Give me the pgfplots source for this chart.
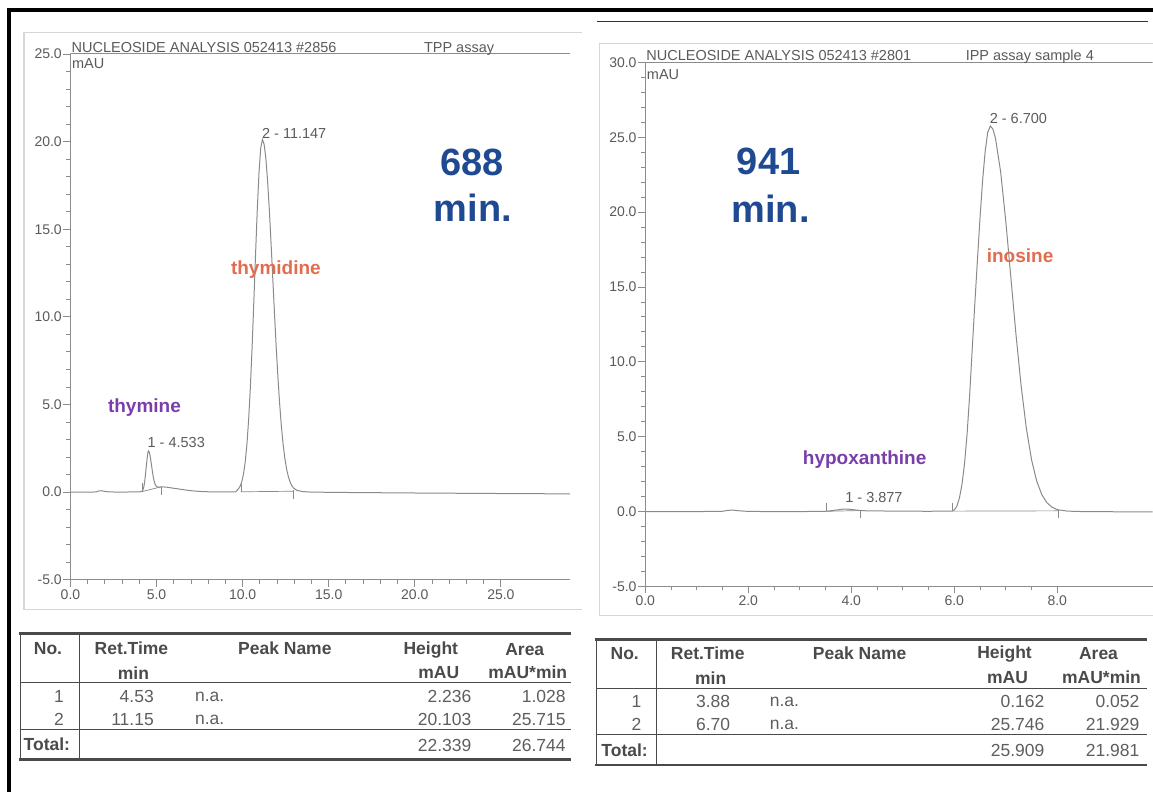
\documentclass[border=0pt]{standalone}
\usepackage{pgfplots}
\pgfplotsset{compat=1.18}
\usepackage{fontspec}
\setmainfont{Liberation Sans}
\definecolor{curve}{HTML}{8A8A8A}
\definecolor{axc}{HTML}{8C8C8C}
\definecolor{tlab}{HTML}{5A5A5A}
\definecolor{frm}{HTML}{D6D6D6}
\definecolor{tab}{HTML}{4A4A4A}
\definecolor{tabtxt}{HTML}{5E5E5E}
\definecolor{blu}{HTML}{1F4991}
\definecolor{org}{HTML}{E26C4E}
\definecolor{pur}{HTML}{7A3EAA}
\newcommand\fs[1]{\fontsize{#1}{#1}\selectfont}
\pgfplotsset{chrom/.style={scale only axis, axis lines=left,
  axis line style={-,draw=axc,line width=1pt},
  tick align=outside, major tick length=7pt, minor tick length=4pt,
  every tick/.append style={draw=axc,line width=0.9pt},
  ticklabel style={font=\fs{14},text=tlab},
  yticklabel style={inner xsep=1.5pt},
  xticklabel style={inner ysep=2.5pt},
  /pgf/number format/fixed, /pgf/number format/fixed zerofill,
  /pgf/number format/precision=1, /pgf/number format/assume math mode=true}}
\begin{document}
\begin{tikzpicture}
\begin{scope}[x=1pt,y=-1pt]
\useasboundingbox (0,0) rectangle (1153,792);
% outer borders
\draw[black,line width=3.2pt] (7.5,10) -- (1153,10);
\draw[black,line width=3.2pt] (9,8.5) -- (9,792);
\draw[black!80,line width=1.6pt] (597,21.7) -- (1148,21.7);
% printout frames
\draw[frm,line width=1.2pt] (582,32.5) -- (24,32.5) -- (24,610) -- (582,610);
\draw[frm,line width=1.2pt] (1153,43.5) -- (600,43.5) -- (600,616) -- (1153,616);
% ---- left table
\draw[tab,line width=2.6pt] (19.5,633.5) -- (571,633.5);
\draw[tab,line width=2.6pt] (19.5,760) -- (571,760);
\draw[tab,line width=1.2pt] (20.7,682.5) -- (571,682.5);
\draw[tab,line width=1.2pt] (20.7,730) -- (571,730);
\draw[tab,line width=1.2pt] (20.7,633.5) -- (20.7,760);
\draw[tab,line width=1.2pt] (79.3,633.5) -- (79.3,760);
\begin{scope}[every node/.style={inner sep=0pt,font=\fs{17.5}\bfseries,text=tab}]
\node at (48,649) {No.};
\node at (131.5,649) {Ret.Time};
\node at (133.5,673) {min};
\node at (285,649) {Peak Name};
\node at (431,650) {Height};
\node at (439,673) {mAU};
\node at (525,650) {Area};
\node at (528,673) {mAU*min};
\node[anchor=west] at (23.5,745) {Total:};
\end{scope}
\begin{scope}[every node/.style={inner sep=0pt,font=\fs{17.5},text=tabtxt}]
\node[anchor=east] at (64,697) {1};
\node[anchor=east] at (64,720) {2};
\node[anchor=east] at (154,697) {4.53};
\node[anchor=east] at (154,720) {11.15};
\node[anchor=west] at (195,697) {n.a.};
\node[anchor=west] at (195,720) {n.a.};
\node[anchor=east] at (471.7,697) {2.236};
\node[anchor=east] at (471.7,720) {20.103};
\node[anchor=east] at (471.7,746) {22.339};
\node[anchor=east] at (566,697) {1.028};
\node[anchor=east] at (566,720) {25.715};
\node[anchor=east] at (566,746) {26.744};
\end{scope}
% ---- right table
\draw[tab,line width=2.6pt] (595.5,640) -- (1147,640);
\draw[tab,line width=2.6pt] (595.5,765.5) -- (1147,765.5);
\draw[tab,line width=1.2pt] (596.7,688.5) -- (1147,688.5);
\draw[tab,line width=1.2pt] (596.7,735) -- (1147,735);
\draw[tab,line width=1.2pt] (596.7,640) -- (596.7,765.5);
\draw[tab,line width=1.2pt] (656.7,640) -- (656.7,765.5);
\begin{scope}[every node/.style={inner sep=0pt,font=\fs{17.5}\bfseries,text=tab}]
\node at (625,654) {No.};
\node at (708,654) {Ret.Time};
\node at (711,678) {min};
\node at (860,654) {Peak Name};
\node at (1005,654) {Height};
\node at (1008,678) {mAU};
\node at (1099,654) {Area};
\node at (1102,678) {mAU*min};
\node[anchor=west] at (601.5,750.5) {Total:};
\end{scope}
\begin{scope}[every node/.style={inner sep=0pt,font=\fs{17.5},text=tabtxt}]
\node[anchor=east] at (641.7,702) {1};
\node[anchor=east] at (641.7,725) {2};
\node[anchor=east] at (730.7,702) {3.88};
\node[anchor=east] at (730.7,725) {6.70};
\node[anchor=west] at (770,702) {n.a.};
\node[anchor=west] at (770,725) {n.a.};
\node[anchor=east] at (1045,702) {0.162};
\node[anchor=east] at (1045,725) {25.746};
\node[anchor=east] at (1045,750.5) {25.909};
\node[anchor=east] at (1140,702) {0.052};
\node[anchor=east] at (1140,725) {21.929};
\node[anchor=east] at (1140,750.5) {21.981};
\end{scope}
\end{scope}
% ---- left chromatogram
\begin{axis}[chrom, at={(70.5pt,-580pt)}, anchor=south west,
  width=499.5pt, height=526pt, xmin=0, xmax=29, ymin=-5, ymax=25,
  xtick={0,5,...,25}, ytick={-5,0,...,25}, minor x tick num=4, minor y tick num=4]
\addplot[curve, line width=1pt] coordinates {
(0,0) (0.5,0) (1.0,0) (1.5,0.01) (1.65,0.07) (1.8,0.08) (2.0,0.04) (2.3,0.01)
(3.0,0) (3.5,0.01) (4.0,0.02) (4.15,0.03) (4.2,0.11) (4.25,0.25) (4.3,0.52)
(4.35,0.93) (4.4,1.43) (4.45,1.90) (4.5,2.28) (4.53,2.35) (4.56,2.33) (4.6,2.20)
(4.65,1.92) (4.7,1.58) (4.75,1.24) (4.8,0.91) (4.85,0.66) (4.9,0.49) (4.95,0.38)
(5.0,0.32) (5.1,0.28) (5.2,0.29) (5.35,0.30) (5.6,0.28) (6.0,0.22) (6.5,0.15)
(7.0,0.08) (7.5,0.04) (8.0,0.02) (9.0,0.01) (9.6,0.02) (9.75,0.18) (9.85,0.33)
(9.95,0.59) (10.05,1.03) (10.15,1.72) (10.25,2.74) (10.35,4.16) (10.45,6.01)
(10.55,8.28) (10.65,10.86) (10.75,13.56) (10.85,16.11) (10.95,18.23) (11.05,19.63)
(11.15,20.12) (11.25,19.84) (11.35,19.03) (11.45,17.76) (11.55,16.11) (11.65,14.22)
(11.75,12.21) (11.85,10.20) (11.95,8.28) (12.05,6.55) (12.15,5.03) (12.25,3.76)
(12.35,2.74) (12.45,1.94) (12.55,1.34) (12.65,0.90) (12.75,0.59) (12.85,0.38)
(12.95,0.24) (13.15,0.10) (13.5,0.03) (14.0,0) (16.0,-0.02) (20.0,-0.05)
(25.0,-0.08) (29.0,-0.10)};
\addplot[curve, line width=0.7pt] coordinates {(4.15,0.03) (5.25,0.30)};
\addplot[curve, line width=0.7pt] coordinates {(9.9,0.02) (12.95,0.05)};
\addplot[curve, line width=0.7pt] coordinates {(4.15,0.03) (4.15,0.5)};
\addplot[curve, line width=0.7pt] coordinates {(5.25,0.30) (5.25,-0.15)};
\addplot[curve, line width=0.7pt] coordinates {(9.9,0.02) (9.9,0.45)};
\addplot[curve, line width=0.7pt] coordinates {(12.95,0.10) (12.95,-0.40)};
\draw[axc,line width=1pt] (rel axis cs:0,1) -- (rel axis cs:1,1);
\end{axis}
% ---- right chromatogram
\begin{axis}[chrom, at={(645.5pt,-586.7pt)}, anchor=south west,
  width=507.5pt, height=524.3pt, xmin=0, xmax=9.85, ymin=-5, ymax=30,
  xtick={0,2,...,8}, ytick={-5,0,...,30}, minor x tick num=3, minor y tick num=4]
\addplot[curve, line width=1pt] coordinates {
(0,0) (0.5,0) (1.0,0) (1.5,0.02) (1.6,0.08) (1.7,0.10) (1.8,0.06) (2.0,0.01)
(2.5,0) (3.0,0) (3.5,0.02) (3.6,0.05) (3.7,0.10) (3.8,0.15) (3.88,0.17) (3.95,0.16)
(4.05,0.12) (4.15,0.08) (4.3,0.05) (4.6,0.04) (5.0,0.03) (5.5,0.02) (5.8,0.03)
(5.95,0.03) (6.0,0.10) (6.05,0.35) (6.1,0.9) (6.15,1.8) (6.2,3.2) (6.25,5.2)
(6.3,7.8) (6.35,10.9) (6.4,13.89) (6.45,16.77) (6.5,19.57) (6.55,22.07) (6.6,24.04)
(6.65,25.31) (6.7,25.75) (6.75,25.55) (6.8,24.95) (6.9,22.72) (7.0,19.43)
(7.1,15.62) (7.2,11.79) (7.3,8.36) (7.4,5.57) (7.5,3.48) (7.6,2.05) (7.7,1.13)
(7.8,0.59) (7.9,0.29) (8.0,0.13) (8.2,0.03) (8.5,0) (9.0,-0.01) (9.85,-0.02)};
\addplot[curve, line width=0.7pt] coordinates {(3.52,0.02) (4.17,0.07)};
\addplot[curve, line width=0.7pt] coordinates {(5.96,0.03) (8.03,0.05)};
\addplot[curve, line width=0.7pt] coordinates {(3.52,0.02) (3.52,0.6)};
\addplot[curve, line width=0.7pt] coordinates {(4.17,0.1) (4.17,-0.45)};
\addplot[curve, line width=0.7pt] coordinates {(5.96,0.03) (5.96,0.6)};
\addplot[curve, line width=0.7pt] coordinates {(8.03,0.1) (8.03,-0.45)};
\draw[axc,line width=1pt] (rel axis cs:0,1) -- (rel axis cs:1,1);
\end{axis}
% ---- annotations
\begin{scope}[x=1pt,y=-1pt]
\begin{scope}[every node/.style={inner sep=0pt,font=\fs{14.5},text=tlab}]
\node[anchor=base west] at (71.5,52.5) {NUCLEOSIDE ANALYSIS 052413 \#2856};
\node[anchor=base west] at (424,52.5) {TPP assay};
\node[anchor=west] at (72,63.5) {mAU};
\node[anchor=west] at (262,133) {2 - 11.147};
\node[anchor=west] at (147.5,443) {1 - 4.533};
\node[anchor=base west] at (646.5,61) {NUCLEOSIDE ANALYSIS 052413 \#2801};
\node[anchor=base west] at (966,61) {IPP assay sample 4};
\node[anchor=west] at (647,74.5) {mAU};
\node[anchor=west] at (990,119) {2 - 6.700};
\node[anchor=west] at (845.5,498) {1 - 3.877};
\end{scope}
\begin{scope}[every node/.style={inner sep=0pt,font=\fs{19}\bfseries}]
\node[text=org] at (276,270) {thymidine};
\node[text=pur] at (144.5,408) {thymine};
\node[text=pur] at (865,460) {hypoxanthine};
\node[text=org] at (1020.5,256) {inosine};
\end{scope}
\begin{scope}[every node/.style={inner sep=0pt,font=\fs{38}\bfseries,text=blu}]
\node at (472.5,162) {688};
\node at (473,208) {min.};
\node at (769,161) {941};
\node at (771,209) {min.};
\end{scope}
\end{scope}
\end{tikzpicture}
\end{document}
